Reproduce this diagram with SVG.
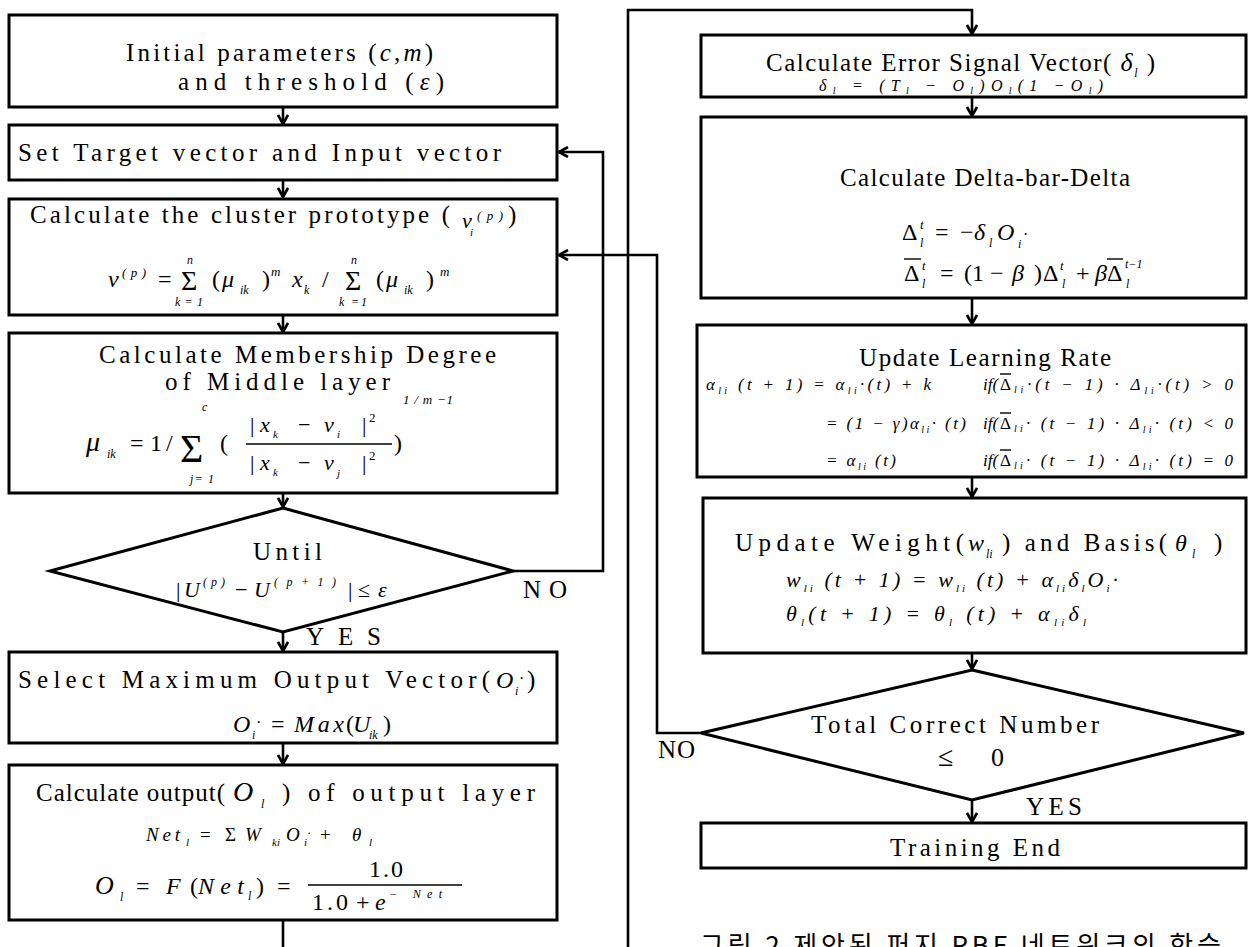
<svg xmlns="http://www.w3.org/2000/svg" width="1249" height="947" viewBox="0 0 1249 947" font-size="25">
<style>
.bx{fill:#fff;stroke:#000;stroke-width:3}
.cn{fill:none;stroke:#000;stroke-width:2.6}
.t{font-family:"Liberation Serif","Times New Roman",serif;fill:#000}
.f{font-family:"Liberation Serif","Times New Roman",serif;font-style:italic;fill:#000}
.i{font-style:italic}
.bar{stroke:#000;stroke-width:1.4}
.cap{font-family:"Noto Sans CJK KR",sans-serif;fill:#000}
</style>
<defs>
<marker id="ah" viewBox="0 0 12 12" refX="11" refY="6" markerWidth="12" markerHeight="12" markerUnits="userSpaceOnUse" orient="auto">
<path d="M2,1 L11,6 L2,11" fill="none" stroke="#000" stroke-width="2.6"/>
</marker>
</defs>
<rect width="1249" height="947" fill="#fff"/>

<g id="connectors">
<path class="cn" d="M283,107 V124" marker-end="url(#ah)"/>
<path class="cn" d="M283,180 V197" marker-end="url(#ah)"/>
<path class="cn" d="M283,315 V332" marker-end="url(#ah)"/>
<path class="cn" d="M283,493 V507" marker-end="url(#ah)"/>
<path class="cn" d="M283,632 V651" marker-end="url(#ah)"/>
<path class="cn" d="M283,743 V764" marker-end="url(#ah)"/>
<path class="cn" d="M283,920 V947"/>
<path class="cn" d="M513,571 H603 V152 H559" marker-end="url(#ah)"/>
<path class="cn" d="M701,733 H657 V255 H559" marker-end="url(#ah)"/>
<path class="cn" d="M628,947 V10 H972 V34" marker-end="url(#ah)"/>
<path class="cn" d="M972,97 V116" marker-end="url(#ah)"/>
<path class="cn" d="M972,298 V324" marker-end="url(#ah)"/>
<path class="cn" d="M972,477 V497" marker-end="url(#ah)"/>
<path class="cn" d="M972,653 V669" marker-end="url(#ah)"/>
<path class="cn" d="M972,800 V822" marker-end="url(#ah)"/>
</g>

<g id="n1">
<rect class="bx" x="9" y="15" width="548" height="92"/>
<text class="t" x="126" y="61" textLength="307">Initial parameters (<tspan class="i">c</tspan>,<tspan class="i">m</tspan>)</text>
<text class="t" x="178" y="90" textLength="266">and threshold (<tspan class="i">ε</tspan>)</text>
</g>

<g id="n2">
<rect class="bx" x="9" y="125" width="548" height="55"/>
<text class="t" x="18" y="161" textLength="483">Set Target vector and Input vector</text>
</g>

<g id="n3">
<rect class="bx" x="9" y="199" width="548" height="116"/>
<text class="t" x="30" y="223" textLength="420">Calculate the cluster prototype (</text>
<text class="f" x="462" y="228" font-size="22">ν</text>
<text class="f" x="470" y="236" font-size="11">i</text>
<text class="f" x="477" y="220" font-size="13" textLength="26">(p)</text>
<text class="t" x="508" y="223">)</text>
<text class="f" x="108" y="287" font-size="24">ν</text>
<text class="f" x="122" y="277" font-size="13" textLength="24">(p)</text>
<text class="t" x="158" y="287" font-size="24">=</text>
<text class="t" x="181" y="290" font-size="28">Σ</text>
<text class="f" x="187" y="264" font-size="12">n</text>
<text class="f" x="175" y="306" font-size="12" textLength="28">k = 1</text>
<text class="t" x="212" y="287" font-size="24">(</text>
<text class="f" x="222" y="287" font-size="24">μ</text>
<text class="f" x="240" y="294" font-size="12">ik</text>
<text class="t" x="262" y="287" font-size="24">)</text>
<text class="f" x="271" y="276" font-size="13">m</text>
<text class="f" x="292" y="287" font-size="24">x</text>
<text class="f" x="304" y="294" font-size="12">k</text>
<text class="t" x="322" y="287" font-size="24">/</text>
<text class="t" x="345" y="290" font-size="28">Σ</text>
<text class="f" x="351" y="264" font-size="12">n</text>
<text class="f" x="339" y="306" font-size="12" textLength="28">k =1</text>
<text class="t" x="376" y="287" font-size="24">(</text>
<text class="f" x="386" y="287" font-size="24">μ</text>
<text class="f" x="404" y="294" font-size="12">ik</text>
<text class="t" x="426" y="287" font-size="24">)</text>
<text class="f" x="440" y="276" font-size="13">m</text>
</g>

<g id="n4">
<rect class="bx" x="9" y="333" width="548" height="160"/>
<text class="t" x="99" y="363" textLength="397">Calculate Membership Degree</text>
<text class="t" x="165" y="390" textLength="225">of Middle layer</text>
<text class="f" x="86" y="451" font-size="28">μ</text>
<text class="f" x="107" y="458" font-size="12">ik</text>
<text class="t" x="130" y="451" font-size="24">=</text>
<text class="t" x="150" y="451" font-size="24">1</text>
<text class="t" x="166" y="451" font-size="24">/</text>
<text class="t" x="180" y="462" font-size="40">Σ</text>
<text class="f" x="202" y="411" font-size="12">c</text>
<text class="f" x="190" y="483" font-size="12" textLength="24">j= 1</text>
<text class="t" x="220" y="451" font-size="24">(</text>
<text class="t" x="250" y="432" font-size="22">|</text>
<text class="f" x="260" y="432" font-size="22">x</text>
<text class="f" x="273" y="438" font-size="11">k</text>
<text class="t" x="298" y="432" font-size="22">−</text>
<text class="f" x="324" y="432" font-size="22">v</text>
<text class="f" x="337" y="438" font-size="11">i</text>
<text class="t" x="362" y="432" font-size="22">|</text>
<text class="t" x="369" y="422" font-size="13">2</text>
<line class="bar" x1="246" y1="444" x2="392" y2="444"/>
<text class="t" x="250" y="470" font-size="22">|</text>
<text class="f" x="260" y="470" font-size="22">x</text>
<text class="f" x="273" y="476" font-size="11">k</text>
<text class="t" x="298" y="470" font-size="22">−</text>
<text class="f" x="324" y="470" font-size="22">v</text>
<text class="f" x="337" y="477" font-size="11">j</text>
<text class="t" x="362" y="470" font-size="22">|</text>
<text class="t" x="369" y="460" font-size="13">2</text>
<text class="t" x="394" y="451" font-size="24">)</text>
<text class="f" x="403" y="404" font-size="13" textLength="50">1 / m −1</text>
</g>

<g id="d1">
<polygon class="bx" points="283,508 513,571 283,632 50,571"/>
<text class="t" x="253" y="560" textLength="69">Until</text>
<text class="t" x="176" y="597" font-size="22">|</text>
<text class="f" x="184" y="597" font-size="22">U</text>
<text class="f" x="203" y="586" font-size="12" textLength="22">(p)</text>
<text class="t" x="235" y="597" font-size="22">−</text>
<text class="f" x="254" y="597" font-size="22">U</text>
<text class="f" x="274" y="586" font-size="12" textLength="62">(p+1)</text>
<text class="t" x="348" y="597" font-size="22">|</text>
<text class="t" x="358" y="597" font-size="22">≤</text>
<text class="f" x="378" y="597" font-size="22">ε</text>
</g>
<g id="lbl-no1"><text class="t" x="523" y="598" textLength="44">NO</text></g>
<g id="lbl-yes1"><text class="t" x="306" y="645" textLength="75">YES</text></g>

<g id="n5">
<rect class="bx" x="9" y="652" width="548" height="91"/>
<text class="t" x="18" y="688" textLength="472">Select Maximum Output Vector(</text>
<text class="f" x="496" y="688" font-size="24">O</text>
<text class="f" x="515" y="695" font-size="12">i</text>
<text class="t" x="519" y="684" font-size="16">·</text>
<text class="t" x="527" y="688">)</text>
<text class="f" x="233" y="732" font-size="24">O</text>
<text class="f" x="252" y="739" font-size="12">i</text>
<text class="t" x="256" y="728" font-size="16">·</text>
<text class="t" x="271" y="732" font-size="24">=</text>
<text class="f" x="294" y="732" font-size="24" textLength="50">Max</text>
<text class="t" x="346" y="732" font-size="24">(</text>
<text class="f" x="353" y="732" font-size="24">U</text>
<text class="f" x="369" y="739" font-size="12">ik</text>
<text class="t" x="383" y="732" font-size="24">)</text>
</g>

<g id="n6">
<rect class="bx" x="9" y="765" width="548" height="155"/>
<text class="t" x="36" y="801" textLength="189">Calculate output(</text>
<text class="f" x="233" y="801" font-size="28">O</text>
<text class="f" x="261" y="808" font-size="12">l</text>
<text class="t" x="282" y="801" textLength="253">) of output layer</text>
<text class="f" x="146" y="841" font-size="19" textLength="34">Net</text>
<text class="f" x="186" y="846" font-size="11">l</text>
<text class="t" x="200" y="841" font-size="19">=</text>
<text class="t" x="225" y="841" font-size="19">Σ</text>
<text class="f" x="245" y="841" font-size="19">W</text>
<text class="f" x="272" y="846" font-size="11">ki</text>
<text class="f" x="286" y="841" font-size="19">O</text>
<text class="f" x="304" y="846" font-size="11">i</text>
<text class="t" x="307" y="837" font-size="13">·</text>
<text class="t" x="320" y="841" font-size="19">+</text>
<text class="f" x="352" y="841" font-size="19">θ</text>
<text class="f" x="369" y="846" font-size="11">l</text>
<text class="f" x="95" y="894" font-size="26">O</text>
<text class="f" x="120" y="901" font-size="12">l</text>
<text class="t" x="136" y="894" font-size="24">=</text>
<text class="f" x="166" y="894" font-size="24">F</text>
<text class="t" x="190" y="894" font-size="24">(</text>
<text class="f" x="198" y="894" font-size="24" textLength="46">Net</text>
<text class="f" x="248" y="900" font-size="12">l</text>
<text class="t" x="256" y="894" font-size="24">)</text>
<text class="t" x="277" y="894" font-size="24">=</text>
<line class="bar" x1="308" y1="885" x2="462" y2="885"/>
<text class="t" x="369" y="877" font-size="24" textLength="34">1.0</text>
<text class="t" x="312" y="910" font-size="24" textLength="36">1.0</text>
<text class="t" x="356" y="910" font-size="24">+</text>
<text class="f" x="375" y="910" font-size="24">e</text>
<text class="f" x="389" y="898" font-size="12" textLength="53">− Net</text>
</g>

<g id="r1">
<rect class="bx" x="701" y="35" width="545" height="62"/>
<text class="t" x="766" y="71" textLength="389">Calculate Error Signal Vector( <tspan class="i" font-size="26">δ</tspan><tspan class="i" font-size="12" dy="6">l</tspan><tspan dy="-6"> )</tspan></text>
<text class="f" x="819" y="91" font-size="16" textLength="284">δ<tspan font-size="10" dy="3">l</tspan><tspan dy="-3"> = (T</tspan><tspan font-size="10" dy="3">l</tspan><tspan dy="-3"> − O</tspan><tspan font-size="10" dy="3">l</tspan><tspan dy="-3">)O</tspan><tspan font-size="10" dy="3">l</tspan><tspan dy="-3">(1 −O</tspan><tspan font-size="10" dy="3">l</tspan><tspan dy="-3">)</tspan></text>
</g>

<g id="r2">
<rect class="bx" x="701" y="117" width="545" height="181"/>
<text class="t" x="840" y="186" textLength="290">Calculate Delta-bar-Delta</text>
<text class="t" x="902" y="240" font-size="24">Δ</text>
<text class="f" x="920" y="229" font-size="13">t</text>
<text class="f" x="920" y="247" font-size="12">l</text>
<text class="t" x="935" y="240" font-size="24">=</text>
<text class="t" x="960" y="240" font-size="24">−</text>
<text class="f" x="974" y="240" font-size="24">δ</text>
<text class="f" x="989" y="247" font-size="12">l</text>
<text class="f" x="997" y="240" font-size="24">O</text>
<text class="f" x="1018" y="248" font-size="12">i</text>
<text class="t" x="1023" y="240" font-size="16">·</text>
<text class="t" x="904" y="281" font-size="24">Δ</text>
<line class="bar" x1="904" y1="259" x2="921" y2="259"/>
<text class="f" x="922" y="270" font-size="13">t</text>
<text class="f" x="922" y="288" font-size="12">l</text>
<text class="t" x="940" y="281" font-size="24">=</text>
<text class="t" x="964" y="281" font-size="24">(1 −</text>
<text class="f" x="1012" y="281" font-size="24">β</text>
<text class="t" x="1034" y="281" font-size="24">)</text>
<text class="t" x="1043" y="281" font-size="24">Δ</text>
<text class="f" x="1060" y="270" font-size="13">t</text>
<text class="f" x="1062" y="288" font-size="12">l</text>
<text class="t" x="1076" y="281" font-size="24">+</text>
<text class="f" x="1095" y="281" font-size="24">β</text>
<text class="t" x="1107" y="281" font-size="24">Δ</text>
<line class="bar" x1="1107" y1="259" x2="1123" y2="259"/>
<text class="f" x="1125" y="268" font-size="12">t−1</text>
<text class="f" x="1126" y="288" font-size="12">l</text>
</g>

<g id="r3">
<rect class="bx" x="697" y="325" width="549" height="152"/>
<text class="t" x="859" y="366" textLength="252">Update Learning Rate</text>
<text class="f" x="706" y="390" font-size="17" textLength="225">α<tspan font-size="10" dy="4">li</tspan><tspan dy="-4"> (t + 1) = α</tspan><tspan font-size="10" dy="4">li</tspan><tspan dy="-4">·(t) + k</tspan></text>
<text class="f" x="983" y="390" font-size="17">if(</text>
<text class="t" x="1000" y="390" font-size="17">Δ</text>
<line class="bar" x1="1000" y1="374" x2="1011" y2="374"/>
<text class="f" x="1014" y="390" font-size="17" textLength="219"><tspan font-size="10" dy="3">li</tspan><tspan dy="-3">·(t − 1) · Δ</tspan><tspan font-size="10" dy="4">li</tspan><tspan dy="-4">·(t) &gt; 0</tspan></text>
<text class="f" x="826" y="429" font-size="17" textLength="140">= (1 − γ)α<tspan font-size="10" dy="4">li</tspan><tspan dy="-4">· (t)</tspan></text>
<text class="f" x="983" y="429" font-size="17">if(</text>
<text class="t" x="1000" y="429" font-size="17">Δ</text>
<line class="bar" x1="1000" y1="413" x2="1011" y2="413"/>
<text class="f" x="1014" y="429" font-size="17" textLength="219"><tspan font-size="10" dy="3">li</tspan><tspan dy="-3">· (t − 1) · Δ</tspan><tspan font-size="10" dy="4">li</tspan><tspan dy="-4">· (t) &lt; 0</tspan></text>
<text class="f" x="826" y="466" font-size="17" textLength="70">= α<tspan font-size="10" dy="4">li</tspan><tspan dy="-4"> (t)</tspan></text>
<text class="f" x="983" y="466" font-size="17">if(</text>
<text class="t" x="1000" y="466" font-size="17">Δ</text>
<line class="bar" x1="1000" y1="450" x2="1011" y2="450"/>
<text class="f" x="1014" y="466" font-size="17" textLength="219"><tspan font-size="10" dy="3">li</tspan><tspan dy="-3">· (t − 1) · Δ</tspan><tspan font-size="10" dy="4">li</tspan><tspan dy="-4">· (t) = 0</tspan></text>
</g>

<g id="r4">
<rect class="bx" x="703" y="498" width="543" height="155"/>
<text class="t" x="735" y="551" textLength="229">Update Weight(</text>
<text class="f" x="968" y="551" font-size="24">w</text>
<text class="f" x="986" y="558" font-size="12">li</text>
<text class="t" x="1002" y="551" textLength="165">) and Basis(</text>
<text class="f" x="1175" y="551" font-size="24">θ</text>
<text class="f" x="1192" y="558" font-size="12">l</text>
<text class="t" x="1214" y="551">)</text>
<text class="f" x="786" y="587" font-size="22" textLength="332">w<tspan font-size="11" dy="5">li</tspan><tspan dy="-5"> (t + 1) = w</tspan><tspan font-size="11" dy="5">li</tspan><tspan dy="-5"> (t) + α</tspan><tspan font-size="11" dy="5">li</tspan><tspan dy="-5">δ</tspan><tspan font-size="11" dy="5">l</tspan><tspan dy="-5">O</tspan><tspan font-size="11" dy="5">i</tspan><tspan dy="-5">·</tspan></text>
<text class="f" x="786" y="621" font-size="22" textLength="300">θ<tspan font-size="11" dy="5">l</tspan><tspan dy="-5">(t + 1) = θ</tspan><tspan font-size="11" dy="5">l</tspan><tspan dy="-5"> (t) + α</tspan><tspan font-size="11" dy="5">li</tspan><tspan dy="-5">δ</tspan><tspan font-size="11" dy="5">l</tspan></text>
</g>

<g id="d2">
<polygon class="bx" points="972,670 1244,733 972,800 701,733"/>
<text class="t" x="811" y="733" textLength="288">Total Correct Number</text>
<text class="t" x="938" y="766" font-size="28">≤</text>
<text class="t" x="991" y="766" font-size="26">0</text>
</g>
<g id="lbl-no2"><text class="t" x="658" y="758" textLength="37">NO</text></g>
<g id="lbl-yes2"><text class="t" x="1026" y="815" textLength="56">YES</text></g>

<g id="r5">
<rect class="bx" x="701" y="823" width="545" height="45"/>
<text class="t" x="890" y="856" textLength="170">Training End</text>
</g>

<g id="caption">
<text class="cap" x="700" y="955" font-size="26" textLength="521">그림 2 제안된 퍼지 RBF 네트워크의 학습</text>
</g>
</svg>
